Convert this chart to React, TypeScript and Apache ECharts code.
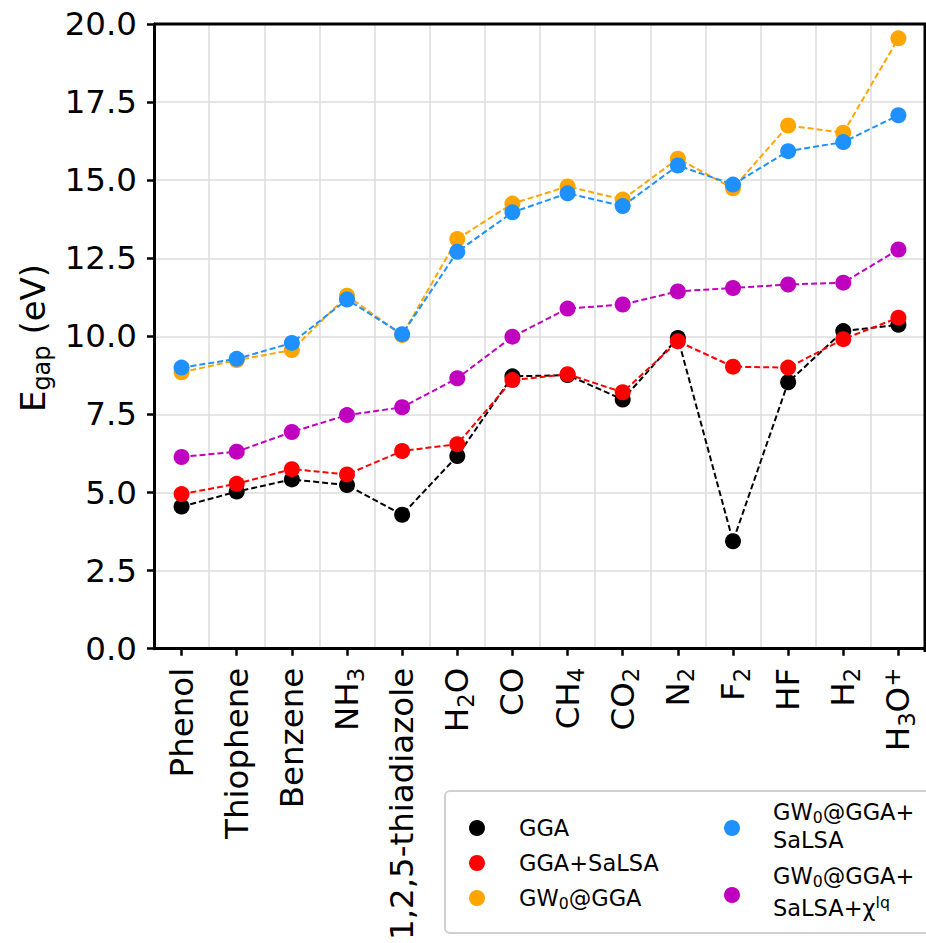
import React, { useEffect, useRef } from 'react';
import * as echarts from 'echarts';

const categories = ['Phenol', 'Thiophene', 'Benzene', 'NH3', '1,2,5-thiadiazole', 'H2O', 'CO', 'CH4', 'CO2', 'N2', 'F2', 'HF', 'H2', 'H3O+'];
const gga = [4.55, 5.03, 5.42, 5.24, 4.29, 6.17, 8.72, 8.76, 7.98, 9.95, 3.44, 8.53, 10.17, 10.37];
const ggaSalsa = [4.95, 5.28, 5.75, 5.58, 6.33, 6.55, 8.6, 8.79, 8.21, 9.84, 9.03, 9.0, 9.91, 10.6];
const gw0 = [8.85, 9.24, 9.56, 11.3, 10.04, 13.12, 14.25, 14.8, 14.38, 15.69, 14.74, 16.75, 16.52, 19.54];
const gw0Salsa = [9.0, 9.28, 9.79, 11.18, 10.07, 12.71, 13.97, 14.58, 14.17, 15.47, 14.86, 15.93, 16.22, 17.08];
const gw0SalsaChi = [6.14, 6.31, 6.94, 7.48, 7.73, 8.66, 9.99, 10.89, 11.02, 11.44, 11.55, 11.66, 11.72, 12.78];

const colors = ['#000000', '#ff0000', '#ffa500', '#1e90ff', '#bf00bf'];
const seriesNames = ['GGA', 'GGA+SaLSA', 'GW0@GGA', 'GW0@GGA+SaLSA', 'GW0@GGA+SaLSA+χlq'];
const seriesData = [gga, ggaSalsa, gw0, gw0Salsa, gw0SalsaChi];

const FONT = 'DejaVu Sans';
const TICK_FS = 32.5;

// chemical formula -> rich text with subscripts / superscripts
function formulaRich(name: string): string {
  if (!/^([A-Z][a-z]?\d*)+\+?$/.test(name)) return '{m|' + name + '}';
  const parts = name.match(/(\d+|\+|[^\d+]+)/g) || [];
  return parts
    .map((p) => (/^\d+$/.test(p) ? '{s|' + p + '}' : p === '+' ? '{p|+}' : '{m|' + p + '}'))
    .join('');
}

export default function App() {
  const ref = useRef<HTMLDivElement>(null);
  useEffect(() => {
    if (!ref.current) return;
    const chart = echarts.init(ref.current, null, { renderer: 'svg' });
    const GL = 154, GT = 24, GW = 772, GH = 628;
    const LFS = 22.5;
    const legendRich = {
      m: { fontSize: LFS, fontFamily: FONT, color: '#000', fill: '#000' },
      s: { fontSize: LFS * 0.7, fontFamily: FONT, color: '#000', fill: '#000', padding: [11, 0, 0, 0] },
      p: { fontSize: LFS * 0.7, fontFamily: FONT, color: '#000', fill: '#000', padding: [0, 0, 11, 0] },
    };
    const mkText = (text: string, x: number, y: number) => ({
      type: 'text', x, y, z: 110,
      style: { text, fill: '#000', fontSize: LFS, fontFamily: FONT, align: 'left', verticalAlign: 'middle', rich: legendRich },
    });
    const mkDot = (cx: number, cy: number, color: string) => ({
      type: 'circle', z: 110, shape: { cx, cy, r: 8 }, style: { fill: color },
    });
    const option: any = {
      animation: false,
      backgroundColor: '#ffffff',
      grid: { left: GL, top: GT, width: GW, height: GH },
      xAxis: {
        type: 'category',
        data: categories,
        boundaryGap: true,
        axisLine: { show: true, lineStyle: { color: '#000', width: 3 } },
        axisTick: { show: true, alignWithLabel: true, length: 7, lineStyle: { color: '#000', width: 2.5 } },
        axisLabel: {
          rotate: 90, fontSize: TICK_FS, fontFamily: FONT, color: '#000', margin: 19, interval: 0,
          formatter: (v: string) => formulaRich(v),
          rich: {
            m: { fontSize: TICK_FS, fontFamily: FONT, color: '#000' },
            s: { fontSize: TICK_FS * 0.7, fontFamily: FONT, color: '#000', padding: [17, 0, 0, 0] },
            p: { fontSize: TICK_FS * 0.7, fontFamily: FONT, color: '#000', padding: [0, 0, 12, 0] },
          },
        },
        splitLine: { show: true, showMinLine: false, showMaxLine: false, lineStyle: { color: '#dddddd', width: 1.5 } },
      },
      yAxis: {
        type: 'value',
        min: 0,
        max: 20,
        interval: 2.5,
        axisLine: { show: true, lineStyle: { color: '#000', width: 3 } },
        axisTick: { show: true, length: 7, lineStyle: { color: '#000', width: 2.5 } },
        axisLabel: { fontSize: TICK_FS, fontFamily: FONT, color: '#000', margin: 17, formatter: (v: number) => v.toFixed(1) },
        splitLine: { show: true, showMinLine: false, showMaxLine: false, lineStyle: { color: '#dddddd', width: 1.5 } },
      },
      series: seriesData.map((d, i) => ({
        name: seriesNames[i],
        type: 'line',
        data: d,
        symbol: 'circle',
        symbolSize: 16,
        itemStyle: { color: colors[i] },
        lineStyle: { color: colors[i], width: 2, type: [6, 3] },
        z: 2 + i,
      })),
      graphic: [
        { type: 'line', z: 100, shape: { x1: GL, y1: GT, x2: GL + GW, y2: GT }, style: { stroke: '#000', lineWidth: 3 } },
        { type: 'line', z: 100, shape: { x1: GL + GW - 1, y1: GT, x2: GL + GW - 1, y2: GT + GH }, style: { stroke: '#000', lineWidth: 3 } },
        {
          type: 'text', x: 33, y: GT + GH / 2, rotation: Math.PI / 2, z: 100,
          style: {
            text: '{m|E}{s|gap}{m| (eV)}',
            align: 'center', verticalAlign: 'middle', fill: '#000',
            rich: {
              m: { fontSize: 34, fontFamily: FONT, fill: '#000' },
              s: { fontSize: 24, fontFamily: FONT, fill: '#000', padding: [17, 0, 0, 0] },
            },
          },
        },
        {
          type: 'rect', z: 105, shape: { x: 445, y: 791, width: 520, height: 142, r: 5 },
          style: { fill: '#ffffff', stroke: '#d0d0d0', lineWidth: 2 },
        },
        mkDot(477, 828, colors[0]),
        mkText('{m|GGA}', 519, 828),
        mkDot(477, 863, colors[1]),
        mkText('{m|GGA+SaLSA}', 519, 863),
        mkDot(477, 898, colors[2]),
        mkText('{m|GW}{s|0}{m|@GGA}', 519, 898),
        mkDot(732, 828, colors[3]),
        mkText('{m|GW}{s|0}{m|@GGA+}', 773, 812),
        mkText('{m|SaLSA}', 773, 840),
        mkDot(732, 895, colors[4]),
        mkText('{m|GW}{s|0}{m|@GGA+}', 773, 876),
        mkText('{m|SaLSA+χ}{p|lq}', 773, 908),
      ],
    };
    chart.setOption(option);
    return () => chart.dispose();
  }, []);
  return <div ref={ref} style={{ position: 'absolute', left: 0, top: 0, width: 926, height: 943 }} />;
}
